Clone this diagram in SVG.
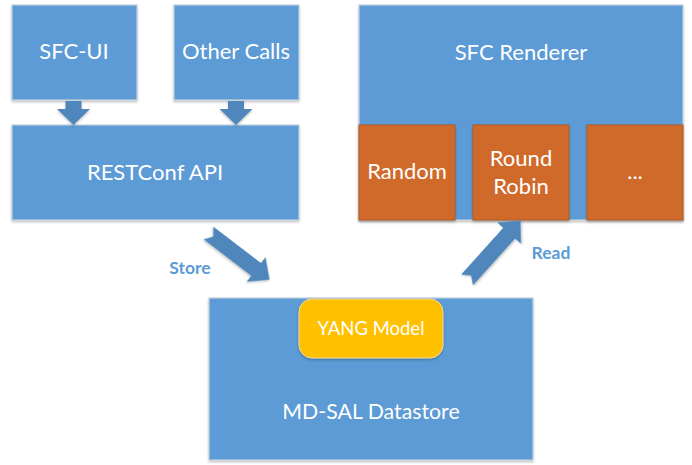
<svg xmlns="http://www.w3.org/2000/svg" width="692" height="465" viewBox="0 0 692 465">
<defs>
<filter id="sh" x="-10%" y="-10%" width="120%" height="130%">
<feDropShadow dx="0" dy="1.5" stdDeviation="1.2" flood-color="#000" flood-opacity="0.25"/>
</filter>
</defs>
<style>
.blue{fill:#5B9BD5;stroke:#C4CFDB;stroke-width:1.2}
.orange{fill:#D06B2B;stroke:#B45A20;stroke-width:1}
.yang{fill:#FFC000;stroke:#F2D79A;stroke-width:1}
.arrow{fill:#4F86BB;stroke:none}
.t{font-family:"Lato","Open Sans","Liberation Sans",sans-serif;fill:#FFFFFF;text-anchor:middle;font-size:22px}
.lbl{font-family:"Lato","Open Sans","Liberation Sans",sans-serif;fill:#5B9BD5;font-weight:bold;font-size:17.5px;text-anchor:middle}
</style>
<rect width="692" height="465" fill="#FFFFFF"/>
<g id="sfc-ui"><rect class="blue" x="12" y="5" width="125" height="95" filter="url(#sh)"/><text class="t" x="74" y="59">SFC-UI</text></g>
<g id="other-calls"><rect class="blue" x="174" y="5" width="125" height="95" filter="url(#sh)"/><text class="t" x="236" y="59">Other Calls</text></g>
<g id="restconf"><rect class="blue" x="12" y="125" width="287" height="95" filter="url(#sh)"/><text class="t" x="155" y="180">RESTConf API</text></g>
<g id="sfc-renderer"><rect class="blue" x="359" y="5" width="324" height="215" filter="url(#sh)"/><text class="t" x="521" y="60">SFC Renderer</text></g>
<g id="random"><rect class="orange" x="359" y="125" width="96" height="95" filter="url(#sh)"/><text class="t" x="407" y="179">Random</text></g>
<g id="round-robin"><rect class="orange" x="473" y="125" width="96" height="95" filter="url(#sh)"/><text class="t" x="521" y="166">Round</text><text class="t" x="521" y="194">Robin</text></g>
<g id="more"><rect class="orange" x="587" y="125" width="96" height="95" filter="url(#sh)"/><text class="t" x="635" y="179">...</text></g>
<g id="datastore"><rect class="blue" x="209" y="298" width="324" height="162" filter="url(#sh)"/><text class="t" x="371" y="419" style="font-size:21.3px">MD-SAL Datastore</text></g>
<g id="yang"><rect class="yang" x="299" y="299" width="144" height="59" rx="13" filter="url(#sh)"/><text class="t" x="371" y="335" style="font-size:18.5px">YANG Model</text></g>
<g id="connectors">
<path class="arrow" d="M65.5,101 H81.5 V109 H90 L73.5,125 L57,109 H65.5 Z" filter="url(#sh)"/>
<path class="arrow" d="M228,101 H244 V109 H252.5 L236,125 L219.5,109 H228 Z" filter="url(#sh)"/>
<path class="arrow" transform="translate(208.5,233) rotate(37.4)" d="M0,-8 H60 V-15.5 L77,0 L60,15.5 V8 H0 L6,0 Z" filter="url(#sh)"/>
<path class="arrow" transform="translate(467,280) rotate(-48)" d="M0,-8 H63 V-16 L80,0 L63,16 V8 H0 L6,0 Z" filter="url(#sh)"/>
<text class="lbl" x="190" y="274">Store</text>
<text class="lbl" x="551" y="259">Read</text>
</g>
</svg>
